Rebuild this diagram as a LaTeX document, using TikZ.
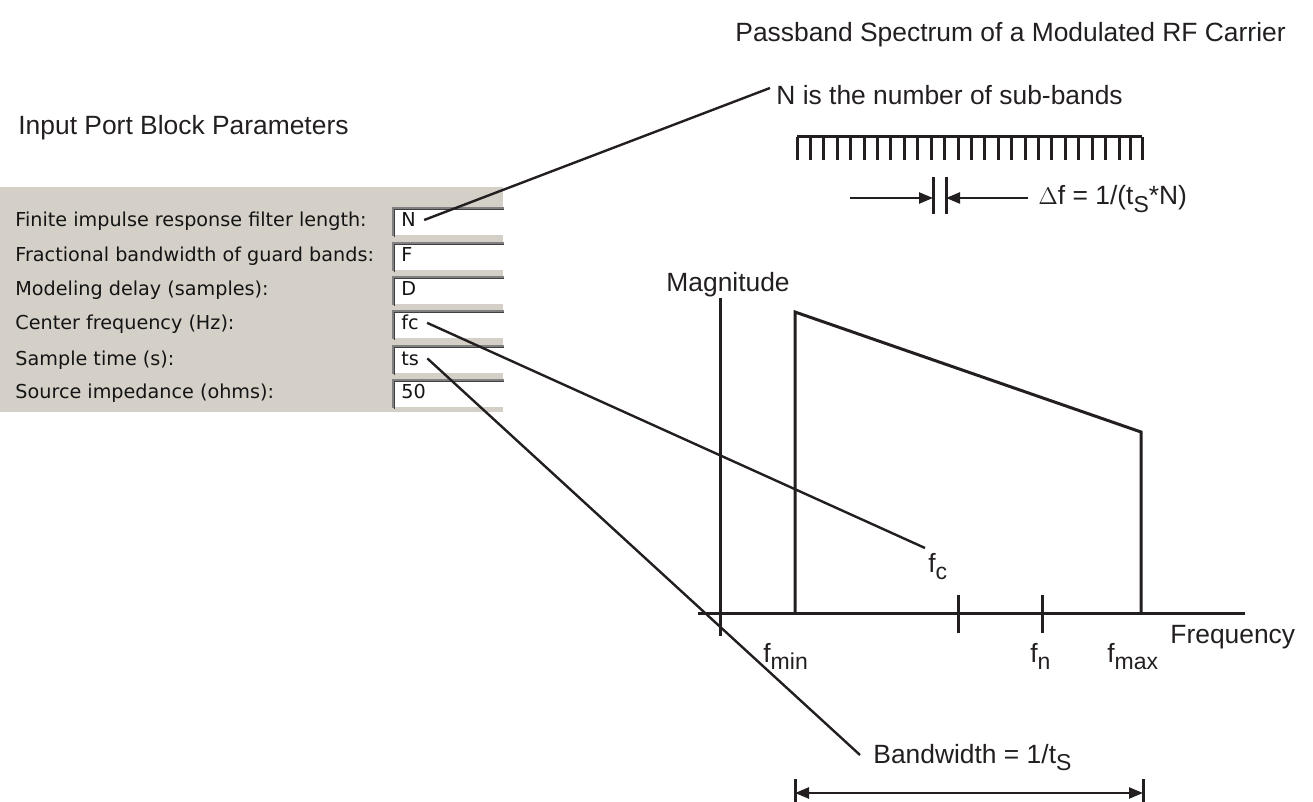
\documentclass[tikz,border=0pt]{standalone}
\usepackage{fontspec}
\setmainfont{Liberation Sans}
\newfontfamily\dlgfamily{DejaVu Sans}
\usepackage{tikz}
\usetikzlibrary{arrows.meta}
\definecolor{panelgray}{RGB}{212,208,200}
\definecolor{dlgtext}{RGB}{20,20,20}
\definecolor{edgedark}{RGB}{128,128,128}
\definecolor{edgeblack}{RGB}{64,64,64}
\definecolor{inkgray}{RGB}{35,31,32}
\newcommand{\lowsub}[1]{\raisebox{-0.55ex}{\fontsize{11.5}{11.5}\selectfont #1}}

\begin{document}
\begin{tikzpicture}[x=0.5pt, y=-0.5pt,
  txt/.style={font=\fontsize{13.2}{15}\selectfont, text=inkgray, inner sep=0pt, anchor=base west},
  dlg/.style={font=\dlgfamily\fontsize{9.6}{11}\selectfont, text=dlgtext, inner sep=0pt, anchor=base west},
  field/.style={fill=white, minimum width=55pt, minimum height=13.5pt, inner sep=0pt},
  ink/.style={draw=inkgray, line width=1.5pt},
  leader/.style={draw=inkgray, line width=1.2pt},
  dim/.style={draw=inkgray, line width=1.2pt, -{Triangle[length=7pt,width=5.5pt]}},
]
\useasboundingbox (0,0) rectangle (1313,802);

% Dialog panel
\fill[panelgray] (0,187) rectangle (503,412);
\node[txt] (dlgtitle) at (18,135) {Input Port Block Parameters};
\foreach \y/\nm/\lab/\val in {
    222/n/{Finite impulse response filter length:}/N,
    257/f/{Fractional bandwidth of guard bands:}/F,
    291/d/{Modeling delay (samples):}/D,
    325/c/{Center frequency (Hz):}/fc,
    360/t/{Sample time (s):}/ts,
    394/z/{Source impedance (ohms):}/50}{
  \node[dlg] (lab\nm) at (15,\y+5) {\lab};
  \node[field, anchor=west] (box\nm) at (393,\y) {};
  \draw[edgedark, line width=0.7pt] (box\nm.south west) |- (box\nm.north east);
  \draw[edgeblack, line width=0.7pt] ([xshift=0.7pt,yshift=-0.7pt]box\nm.south west) |- ([yshift=-0.7pt]box\nm.north east);
  \node[dlg] (val\nm) at (401,\y+5) {\val};
}

% Title and sub-bands
\node[txt] (title) at (735,42) {Passband Spectrum of a Modulated RF Carrier};
\node[txt] (nlabel) at (776,105) {N is the number of sub-bands};
\draw[ink] (797,137) -- (1142,137);
\foreach \i in {0,...,24}
  \draw[ink] (797+13.42*\i,137) -- (797+13.42*\i,160);
\foreach \x in {1130,1142}
  \draw[ink] (\x,137) -- (\x,160);

% Delta f
\coordinate (dl) at (933,198);
\coordinate (dr) at (946,198);
\draw[ink] (933,177) -- (933,214);
\draw[ink] (946,177) -- (946,214);
\coordinate (dlstart) at (850,198);
\coordinate (drstart) at (1028,198);
\draw[dim] (dlstart) -- (dl);
\draw[dim] (drstart) -- (dr);
\node[txt] (dflabel) at (1038,205) {$\Delta$f = 1/(t\lowsub{S}*N)};

% Spectrum
\coordinate (magtop) at (720,298);
\coordinate (magbot) at (720,636);
\coordinate (fqleft) at (698,613);
\coordinate (fqright) at (1245,613);
\draw[ink] (magtop) -- (magbot);
\draw[ink] (fqleft) -- (fqright);
\draw[ink, line join=miter] (795,613) -- (795,312) -- (1141,432) -- (1141,613);
\draw[ink] (958,595) -- (958,633);
\draw[ink] (1042,595) -- (1042,633);
\node[txt] (maglabel) at (666,292) {Magnitude};
\node[txt] (fqlabel) at (1170,643) {Frequency};
\node[txt] (fmin) at (763,662) {f\lowsub{min}};
\node[txt] (fn) at (1030,662) {f\lowsub{n}};
\node[txt] (fmax) at (1107,662) {f\lowsub{max}};
\node[txt] (fc) at (928,572) {f\lowsub{c}};

% Bandwidth
\coordinate (bwl) at (795,793);
\coordinate (bwr) at (1143,793);
\draw[ink] (795,779) -- (795,807);
\draw[ink] (1143,779) -- (1143,807);
\draw[draw=inkgray, line width=1.2pt, {Triangle[length=7pt,width=5.5pt]}-{Triangle[length=7pt,width=5.5pt]}] (bwl) -- (bwr);
\node[txt] (bwlabel) at (873,763) {Bandwidth = 1/t\lowsub{S}};

% Leaders
\coordinate (nend) at (770,88);
\coordinate (fcend) at (925,548);
\coordinate (bwend) at (860,755);
\draw[leader] ([xshift=4pt]valn.east) -- (nend);
\draw[leader] ([xshift=4pt]valc.east) -- (fcend);
\draw[leader] ([xshift=4pt]valt.east) -- (bwend);
\end{tikzpicture}
\end{document}
